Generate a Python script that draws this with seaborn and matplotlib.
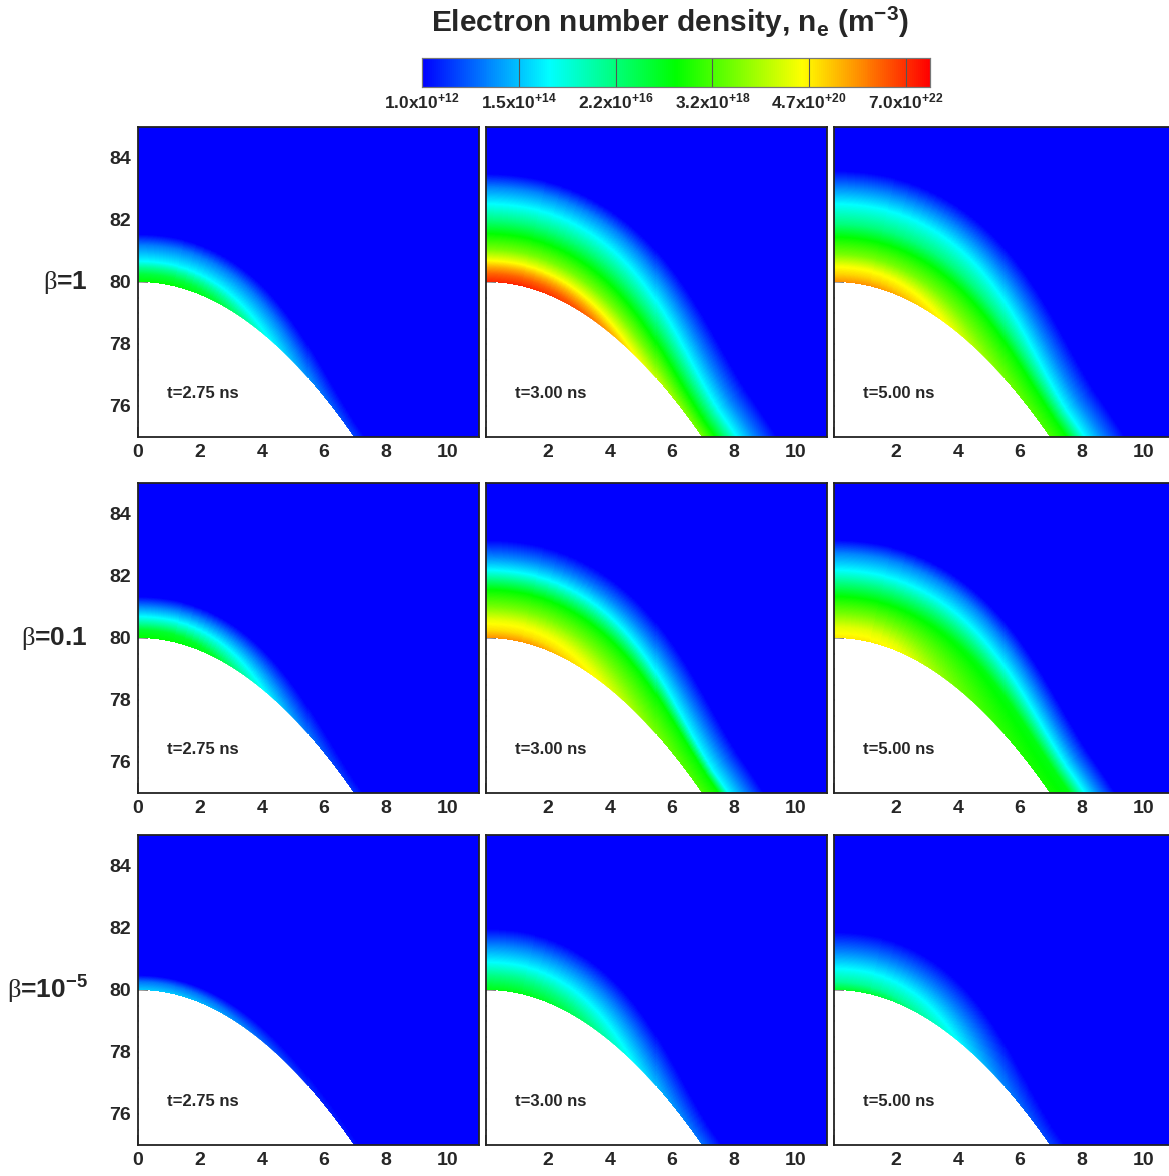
import numpy as np
import pandas as pd
import matplotlib
matplotlib.use("Agg")
import matplotlib.pyplot as plt
import seaborn as sns
from matplotlib.colors import LinearSegmentedColormap

# ---------------- data ----------------
row_labels = [r"$\mathrm{\beta}$=1", r"$\mathrm{\beta}$=0.1", r"$\mathrm{\beta}$=1$\mathbf{0^{-5}}$"]
time_labels = ["t=2.75 ns", "t=3.00 ns", "t=5.00 ns"]

# colorbar: log10(n_e) tick values and labels
cbar_ticks = [12.0, 14.176, 16.342, 18.505, 20.672, 22.845]
cbar_ticklabels = [r"$\mathbf{1.0x10}^{\mathbf{+12}}$", r"$\mathbf{1.5x10}^{\mathbf{+14}}$",
                   r"$\mathbf{2.2x10}^{\mathbf{+16}}$", r"$\mathbf{3.2x10}^{\mathbf{+18}}$",
                   r"$\mathbf{4.7x10}^{\mathbf{+20}}$", r"$\mathbf{7.0x10}^{\mathbf{+22}}$"]
log_min, log_max = 12.0, 23.38

# electrode surface: y = tip_y - tip_curv * x^2
tip_y = 80.0
tip_curv = 0.1035

# profiles of log10(n_e) vs normal distance from surface (mm), read at the
# axis (top) and at the lower flank (side) of each panel: [row][col]
top_d = [
    [[0, 0.27, 0.48, 0.68, 1.2, 1.55],
     [0, 0.27, 0.48, 0.7, 1.07, 1.56, 2.0, 2.53, 3.06, 3.5],
     [0, 0.27, 0.54, 0.91, 1.45, 1.88, 2.53, 3.06, 3.6]],
    [[0, 0.27, 0.48, 0.7, 1.02, 1.34],
     [0, 0.27, 0.59, 1.02, 1.56, 1.88, 2.2, 2.63, 3.17],
     [0, 0.38, 0.81, 1.34, 1.77, 2.2, 2.74, 3.17]],
    [[0, 0.27, 0.48],
     [0, 0.48, 0.91, 1.45, 1.99],
     [0, 0.27, 0.7, 1.24, 1.88]],
]
top_L = [
    [[17.7, 17.0, 16.0, 14.85, 13.4, 12.0],
     [23.0, 22.3, 21.5, 20.5, 19.0, 17.7, 16.3, 14.85, 13.5, 12.0],
     [21.8, 21.0, 20.4, 19.0, 17.7, 16.3, 14.85, 13.5, 12.0]],
    [[17.7, 17.2, 16.0, 14.85, 13.5, 12.0],
     [21.8, 20.9, 20.3, 19.0, 17.7, 16.3, 14.85, 13.5, 12.0],
     [20.8, 20.2, 19.0, 17.7, 16.3, 14.85, 13.5, 12.0]],
    [[14.3, 13.3, 12.0],
     [17.5, 16.2, 14.85, 13.5, 12.0],
     [17.3, 16.0, 14.85, 13.5, 12.0]],
]
side_d = [
    [[0, 0.3], [0, 0.35, 0.93, 1.41, 2.03], [0, 0.44, 0.93, 1.41, 2.03]],
    [[0, 0.25], [0, 0.44, 0.7, 1.15, 1.67], [0, 0.52, 0.93, 1.3, 1.76]],
    [[0, 0.15], [0, 0.53], [0, 0.4]],
]
side_L = [
    [[12.8, 12.0], [19.0, 17.7, 14.85, 13.5, 12.0], [18.5, 17.7, 14.85, 13.5, 12.0]],
    [[12.6, 12.0], [18.5, 17.7, 14.85, 13.5, 12.0], [17.9, 17.5, 14.85, 13.5, 12.0]],
    [[12.3, 12.0], [13.3, 12.0], [12.8, 12.0]],
]

x_range = (0.0, 11.0)
y_range = (75.0, 85.0)
x_major = [0, 2, 4, 6, 8, 10]
y_major = [76, 78, 80, 82, 84]

# ---------------- geometry ----------------
nx, ny = 340, 310
xc = (np.arange(nx) + 0.5) * (x_range[1] - x_range[0]) / nx + x_range[0]
yc = y_range[1] - (np.arange(ny) + 0.5) * (y_range[1] - y_range[0]) / ny
XX, YY = np.meshgrid(xc, yc)
ps = np.linspace(-2, 13, 1501)
py = tip_y - tip_curv * ps ** 2
dist = np.empty_like(XX)
foot = np.empty_like(XX)
for j in range(ny):
    dd = np.hypot(XX[j][:, None] - ps[None, :], YY[j][:, None] - py[None, :])
    k = dd.argmin(axis=1)
    dist[j] = dd[np.arange(nx), k]
    foot[j] = np.abs(ps[k])
inside = YY < tip_y - tip_curv * XX ** 2
u = np.clip(foot / 7.0, 0, 1) ** 1.5
w = 3 * u ** 2 - 2 * u ** 3
nbins = 80
wbin = np.minimum((w * nbins).astype(int), nbins - 1)
levels = np.linspace(log_min, log_max, 400)


def level_distance(d, L):
    """distance of each level contour from the surface (negative above the surface value)"""
    d = np.asarray(d, float)
    L = np.asarray(L, float)
    out = np.interp(levels, L[::-1], d[::-1])
    slope = (d[1] - d[0]) / (L[0] - L[1])
    above = levels > L[0]
    out[above] = -(levels[above] - L[0]) * slope
    return out


def build_field(r, c):
    dT = level_distance(top_d[r][c], top_L[r][c])
    dS = level_distance(side_d[r][c], side_L[r][c])
    field = np.full(dist.shape, log_min)
    for b in range(nbins):
        sel = wbin == b
        if not sel.any():
            continue
        wb = (b + 0.5) / nbins
        dB = (1 - wb) * dT + wb * dS
        field[sel] = np.interp(dist[sel], dB[::-1], levels[::-1])
    return field


# ---------------- style ----------------
sns.set_style("white")
plt.rcParams["font.family"] = ["Liberation Sans", "DejaVu Sans"]
plt.rcParams["mathtext.fontset"] = "custom"
plt.rcParams["mathtext.rm"] = "Liberation Serif"
plt.rcParams["mathtext.bf"] = "Liberation Sans:bold"
plt.rcParams["mathtext.it"] = "Liberation Sans:italic"

cmap = LinearSegmentedColormap.from_list(
    "rainbow5", ["#0000ff", "#00ffff", "#00ff00", "#ffff00", "#ff0000"])

W, H = 1169, 1176
fig = plt.figure(figsize=(W / 100, H / 100), dpi=100)

col_left = [138, 486, 834]
row_top = [127, 483, 835]
pw, ph = 341, 310

cax = fig.add_axes([422 / W, 1 - 87 / H, 508 / W, 29 / H])


def xpos(v):
    return (np.asarray(v) - x_range[0]) / (x_range[1] - x_range[0]) * nx


def ypos(v):
    return (y_range[1] - np.asarray(v)) / (y_range[1] - y_range[0]) * ny


sx = np.linspace(0, 11, 600)
for r in range(3):
    for c in range(3):
        ax = fig.add_axes([col_left[c] / W, 1 - (row_top[r] + ph) / H, pw / W, ph / H])
        field = build_field(r, c)
        df = pd.DataFrame(field, index=np.round(yc, 3), columns=np.round(xc, 3))
        first = (r == 0 and c == 0)
        sns.heatmap(df, ax=ax, cmap=cmap, vmin=log_min, vmax=log_max, mask=inside,
                    xticklabels=False, yticklabels=False, rasterized=True,
                    cbar=first, cbar_ax=cax if first else None,
                    cbar_kws=dict(orientation="horizontal", ticks=cbar_ticks) if first else None)
        # electrode (white) with a smooth edge
        ax.fill_between(xpos(sx), ypos(tip_y - tip_curv * sx ** 2), ny + 5,
                        color="white", lw=0, zorder=3)
        ax.set_xlim(0, nx)
        ax.set_ylim(ny, 0)
        for s in ax.spines.values():
            s.set_visible(True)
            s.set_color("#222222")
            s.set_linewidth(1.3)
            s.set_zorder(5)
        ax.set_xticks(xpos(x_major))
        ax.set_xticks([xpos(v) for v in np.arange(0.5, 11, 0.5) if v % 2 != 0], minor=True)
        ax.set_yticks(ypos(y_major))
        ax.set_yticks([ypos(v) for v in np.arange(75.5, 85, 0.5) if v % 2 != 0], minor=True)
        ax.set_xticklabels([str(v) if (c == 0 or v != 0) else "" for v in x_major],
                           fontsize=14, fontweight="bold")
        if c == 0:
            ax.set_yticklabels([str(v) for v in y_major], fontsize=14, fontweight="bold")
        else:
            ax.set_yticklabels([])
        ax.tick_params(which="both", direction="in", left=True, bottom=True,
                       top=False, right=False, color="#222222", width=1.1)
        ax.tick_params(which="major", length=7, pad=5)
        ax.tick_params(which="minor", length=4)
        ax.set_xlabel("")
        ax.set_ylabel("")
        ax.text(xpos(0.95), ypos(76.4), time_labels[c], fontsize=12,
                fontweight="bold", ha="left", va="center", zorder=6)

    fig.text(88 / W, 1 - (row_top[r] + 155) / H, row_labels[r], fontsize=19,
             fontweight="bold", ha="right", va="center")

# colorbar styling
cax.set_xticks(cbar_ticks)
cax.set_xticklabels(cbar_ticklabels, fontsize=12.5)
cax.tick_params(axis="x", length=0, pad=3)
for t in cbar_ticks[1:]:
    cax.axvline(t, color="#555555", lw=0.8)
for s in cax.spines.values():
    s.set_visible(True)
    s.set_color("#777777")
    s.set_linewidth(0.8)

fig.text(670 / W, 1 - 22 / H,
         r"Electron number density, $\mathbf{n_e}$ ($\mathbf{m^{-3}}$)",
         fontsize=21.5, fontweight="bold", ha="center", va="center")

fig.savefig("out.png", dpi=100)
